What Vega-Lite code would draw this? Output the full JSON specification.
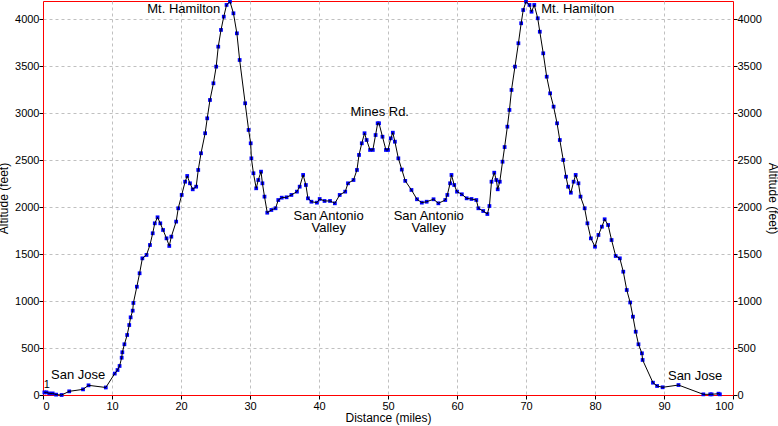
{
  "$schema": "https://vega.github.io/schema/vega-lite/v6.json",
  "width": 690,
  "height": 394,
  "autosize": {"type": "none"},
  "padding": {"left": 43, "top": 1, "right": 45, "bottom": 31},
  "background": "white",
  "config": {
    "font": "Liberation Sans",
    "view": {"stroke": "#ff0000", "strokeWidth": 1},
    "axis": {
      "labelFont": "Liberation Sans",
      "titleFont": "Liberation Sans",
      "labelFontSize": 11,
      "titleFontSize": 12,
      "titleFontWeight": "normal",
      "labelColor": "black",
      "titleColor": "black",
      "domainColor": "#ff0000",
      "tickColor": "black",
      "tickSize": 4,
      "labelPadding": 1,
      "format": "d",
      "gridColor": "#c0c0c0",
      "gridDash": [3, 3],
      "gridOpacity": 1
    }
  },
  "datasets": {
    "profile": [
      {"d":0.2,"alt":28},{"d":0.5,"alt":28},{"d":0.9,"alt":17},{"d":1.4,"alt":17},{"d":1.9,"alt":4},{"d":2.7,"alt":0},{"d":3.8,"alt":39},{"d":5.8,"alt":60},{"d":6.6,"alt":103},{"d":9.1,"alt":80},
      {"d":10.4,"alt":228},{"d":10.8,"alt":266},{"d":11.1,"alt":309},{"d":11.4,"alt":397},{"d":11.5,"alt":455},{"d":11.8,"alt":540},{"d":12.2,"alt":639},{"d":12.5,"alt":745},{"d":12.7,"alt":827},{"d":13.0,"alt":898},
      {"d":13.1,"alt":980},{"d":13.6,"alt":1153},{"d":14.0,"alt":1296},{"d":14.4,"alt":1455},{"d":15.0,"alt":1491},{"d":15.5,"alt":1597},{"d":15.9,"alt":1722},{"d":16.2,"alt":1828},{"d":16.6,"alt":1892},{"d":17.0,"alt":1828},
      {"d":17.4,"alt":1757},{"d":17.9,"alt":1668},{"d":18.3,"alt":1587},{"d":18.6,"alt":1686},{"d":19.3,"alt":1846},{"d":19.6,"alt":1988},{"d":20.1,"alt":2130},{"d":20.6,"alt":2271},{"d":20.9,"alt":2332},{"d":21.3,"alt":2254},
      {"d":21.7,"alt":2190},{"d":22.2,"alt":2218},{"d":22.5,"alt":2396},{"d":22.9,"alt":2574},{"d":23.5,"alt":2787},{"d":23.8,"alt":2946},{"d":24.2,"alt":3141},{"d":24.7,"alt":3319},{"d":25.1,"alt":3496},{"d":25.4,"alt":3709},
      {"d":25.8,"alt":3887},{"d":26.2,"alt":4028},{"d":26.6,"alt":4153},{"d":27.1,"alt":4188},{"d":27.6,"alt":4064},{"d":28.1,"alt":3851},{"d":28.5,"alt":3567},{"d":29.3,"alt":3106},{"d":29.8,"alt":2822},{"d":30.1,"alt":2680},
      {"d":30.2,"alt":2520},{"d":30.5,"alt":2361},{"d":30.9,"alt":2201},{"d":31.2,"alt":2289},{"d":31.6,"alt":2378},{"d":31.8,"alt":2254},{"d":32.1,"alt":2112},{"d":32.5,"alt":1941},{"d":33.1,"alt":1970},{"d":33.7,"alt":1988},
      {"d":34.1,"alt":2076},{"d":34.6,"alt":2101},{"d":35.3,"alt":2105},{"d":36.0,"alt":2130},{"d":36.8,"alt":2165},{"d":37.2,"alt":2218},{"d":37.7,"alt":2343},{"d":38.1,"alt":2236},{"d":38.4,"alt":2094},{"d":38.9,"alt":2058},
      {"d":39.7,"alt":2048},{"d":40.1,"alt":2087},{"d":40.8,"alt":2066},{"d":41.6,"alt":2066},{"d":42.3,"alt":2041},{"d":43.0,"alt":2130},{"d":43.8,"alt":2165},{"d":44.2,"alt":2254},{"d":45.0,"alt":2289},{"d":45.5,"alt":2396},
      {"d":45.8,"alt":2556},{"d":46.2,"alt":2680},{"d":46.6,"alt":2787},{"d":46.9,"alt":2715},{"d":47.4,"alt":2609},{"d":47.8,"alt":2609},{"d":48.2,"alt":2768},{"d":48.5,"alt":2893},{"d":48.7,"alt":2893},{"d":49.2,"alt":2750},
      {"d":49.7,"alt":2609},{"d":50.0,"alt":2609},{"d":50.4,"alt":2733},{"d":50.7,"alt":2793},{"d":51.0,"alt":2697},{"d":51.5,"alt":2520},{"d":52.0,"alt":2400},{"d":52.5,"alt":2280},{"d":53.4,"alt":2183},{"d":54.2,"alt":2084},
      {"d":54.9,"alt":2048},{"d":55.6,"alt":2058},{"d":56.6,"alt":2084},{"d":57.3,"alt":2041},{"d":58.3,"alt":2076},{"d":58.6,"alt":2130},{"d":59.0,"alt":2254},{"d":59.2,"alt":2343},{"d":59.6,"alt":2236},{"d":60.0,"alt":2165},
      {"d":60.7,"alt":2137},{"d":61.4,"alt":2094},{"d":62.1,"alt":2087},{"d":62.8,"alt":2076},{"d":63.1,"alt":1988},{"d":63.8,"alt":1959},{"d":64.4,"alt":1927},{"d":64.7,"alt":2012},{"d":65.0,"alt":2271},{"d":65.4,"alt":2367},
      {"d":65.7,"alt":2289},{"d":65.9,"alt":2190},{"d":66.2,"alt":2271},{"d":66.6,"alt":2484},{"d":66.9,"alt":2640},{"d":67.3,"alt":2857},{"d":67.6,"alt":3035},{"d":67.9,"alt":3248},{"d":68.4,"alt":3496},{"d":68.9,"alt":3745},
      {"d":69.3,"alt":3958},{"d":69.6,"alt":4099},{"d":70.0,"alt":4188},{"d":70.5,"alt":4153},{"d":70.8,"alt":4081},{"d":71.2,"alt":4153},{"d":71.7,"alt":4011},{"d":72.0,"alt":3868},{"d":72.5,"alt":3638},{"d":73.0,"alt":3389},
      {"d":73.5,"alt":3212},{"d":74.0,"alt":3070},{"d":74.5,"alt":2893},{"d":74.9,"alt":2715},{"d":75.4,"alt":2502},{"d":75.8,"alt":2324},{"d":76.1,"alt":2218},{"d":76.5,"alt":2154},{"d":76.9,"alt":2271},{"d":77.2,"alt":2343},
      {"d":77.6,"alt":2254},{"d":77.9,"alt":2112},{"d":78.5,"alt":1988},{"d":78.9,"alt":1828},{"d":79.4,"alt":1668},{"d":80.0,"alt":1579},{"d":80.5,"alt":1704},{"d":81.0,"alt":1792},{"d":81.4,"alt":1871},{"d":81.9,"alt":1810},
      {"d":82.4,"alt":1650},{"d":83.0,"alt":1480},{"d":83.6,"alt":1455},{"d":84.1,"alt":1313},{"d":84.6,"alt":1118},{"d":85.1,"alt":985},{"d":85.5,"alt":834},{"d":85.9,"alt":674},{"d":86.3,"alt":540},{"d":86.8,"alt":444},
      {"d":86.9,"alt":373},{"d":88.4,"alt":131},{"d":89.0,"alt":96},{"d":89.8,"alt":82},{"d":92.1,"alt":106},{"d":95.7,"alt":7},{"d":96.7,"alt":7},{"d":96.9,"alt":7},{"d":97.9,"alt":14},{"d":98.1,"alt":7}
    ],
    "labels": [
      {"d":20.4,"alt":4100,"label":"Mt. Hamilton"},
      {"d":77.5,"alt":4100,"label":"Mt. Hamilton"},
      {"d":48.8,"alt":3003,"label":"Mines Rd."},
      {"d":41.4,"alt":1898,"label":"San Antonio\nValley"},
      {"d":55.9,"alt":1898,"label":"San Antonio\nValley"},
      {"d":5.1,"alt":202,"label":"San Jose"},
      {"d":94.5,"alt":192,"label":"San Jose"}
    ],
    "marker": [
      {"d":0.1,"alt":106,"label":"1"}
    ]
  },
  "resolve": {"scale": {"y": "shared"}, "axis": {"y": "independent"}},
  "layer": [
    {
      "data": {"name": "profile"},
      "mark": {"type": "point", "shape": "square", "filled": true, "color": "#0000ff", "size": 14, "opacity": 1},
      "encoding": {
        "x": {"field": "d", "type": "quantitative", "scale": {"domain": [0, 100], "nice": false},
          "axis": {"title": "Distance (miles)", "values": [0,10,20,30,40,50,60,70,80,90,100], "titlePadding": 1}},
        "y": {"field": "alt", "type": "quantitative", "scale": {"domain": [0, 4195], "nice": false},
          "axis": {"title": "Altitude (feet)", "orient": "left", "values": [0,500,1000,1500,2000,2500,3000,3500,4000], "labelPadding": 0, "titlePadding": 4}}
      }
    },
    {
      "data": {"name": "profile"},
      "mark": {"type": "line", "color": "black", "strokeWidth": 1},
      "encoding": {
        "x": {"field": "d", "type": "quantitative"},
        "y": {"field": "alt", "type": "quantitative",
          "axis": {"title": "Altitude (feet)", "orient": "right", "grid": false, "values": [0,500,1000,1500,2000,2500,3000,3500,4000], "labelPadding": 0, "titlePadding": 4}}
      }
    },
    {
      "data": {"name": "labels"},
      "mark": {"type": "text", "fontSize": 13, "font": "Liberation Sans", "align": "center", "baseline": "top", "lineBreak": "\n", "lineHeight": 12, "dy": -7, "color": "black"},
      "encoding": {
        "x": {"field": "d", "type": "quantitative"},
        "y": {"field": "alt", "type": "quantitative", "axis": null},
        "text": {"field": "label"}
      }
    },
    {
      "data": {"name": "marker"},
      "mark": {"type": "text", "fontSize": 11, "font": "Liberation Sans", "align": "left", "baseline": "middle", "color": "black"},
      "encoding": {
        "x": {"field": "d", "type": "quantitative"},
        "y": {"field": "alt", "type": "quantitative", "axis": null},
        "text": {"field": "label"}
      }
    }
  ]
}
